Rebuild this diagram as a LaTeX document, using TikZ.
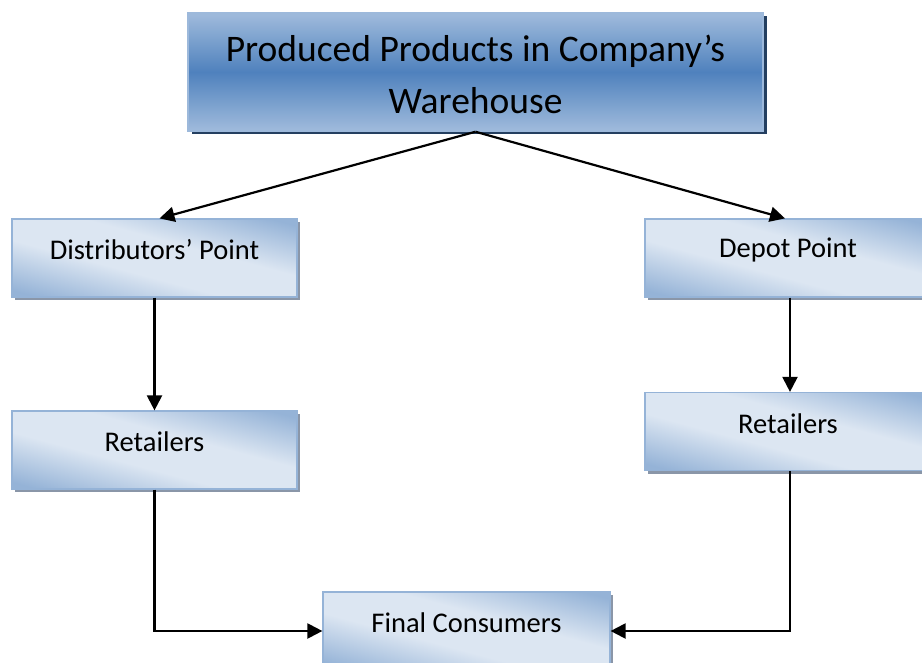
\documentclass[tikz,border=0pt]{standalone}
\usepackage{fontspec}
\setmainfont{Carlito}
\usetikzlibrary{arrows.meta,shadows}
\definecolor{boxedge}{HTML}{95B3D7}
\definecolor{boxlight}{HTML}{DCE6F2}
\definecolor{boxdark}{HTML}{95B3D7}
\definecolor{headmid}{HTML}{4F81BD}
\definecolor{headedge}{HTML}{9DB9DB}
\definecolor{headshadow}{HTML}{243F60}
\definecolor{boxshadow}{HTML}{8A96A8}
% soft diagonal panel: blue corners, wide light band across the middle
\pgfdeclareverticalshading{panel}{100bp}{%
  color(0bp)=(boxdark); color(22bp)=(boxdark);
  color(42bp)=(boxlight); color(58bp)=(boxlight);
  color(78bp)=(boxdark); color(100bp)=(boxdark)}
\pgfdeclareverticalshading{headband}{100bp}{%
  color(0bp)=(headedge); color(26bp)=(headedge);
  color(50bp)=(headmid); color(74bp)=(headedge); color(100bp)=(headedge)}
\begin{document}
\begin{tikzpicture}[x=1pt,y=-1pt,
  stagebox/.style={rectangle,draw=boxedge,line width=1.2pt,
    minimum width=285pt,minimum height=78pt,inner sep=0pt,
    shading=panel,shading angle=-15,
    general shadow={shadow xshift=3pt,shadow yshift=-3pt,fill=boxshadow}},
  headbox/.style={rectangle,draw=headedge,line width=1.5pt,
    minimum width=575pt,minimum height=118pt,inner sep=0pt,
    shading=headband,
    align=center,font=\fontsize{37.5}{52}\selectfont,
    general shadow={shadow xshift=3.5pt,shadow yshift=-3.5pt,fill=headshadow}},
  boxtext/.style={font=\fontsize{28.5}{32}\selectfont,yshift=8pt},
  flow/.style={line width=2.2pt,-{Triangle[length=15pt,width=15pt]}}]
\useasboundingbox (0,0) rectangle (922,663);

\node[headbox,text depth=0pt] (head) at (475.5,72) {\raisebox{-5pt}{Produced Products in Company’s}\\\raisebox{-5pt}{Warehouse}};

\node[stagebox,label={[boxtext]center:Distributors’ Point}] (dist) at (154.5,258) {};
\node[stagebox,minimum width=286pt,label={[boxtext]center:Depot Point}] (depot) at (788,258) {};
\node[stagebox,label={[boxtext]center:Retailers}] (retl) at (154.5,450) {};
\node[stagebox,minimum width=286pt,label={[boxtext]center:Retailers}] (retr) at (788,431.5) {};
\node[stagebox,minimum width=287pt,label={[boxtext]center:Final Consumers}] (final) at (466.5,631) {};

\coordinate (split) at (head.south);
\draw[flow] (split) -- ([xshift=5pt]dist.north);
\draw[flow] (split) -- ([xshift=-3pt]depot.north);
\draw[flow] (dist.south) -- (retl.north);
\draw[flow] ([xshift=2pt]depot.south) -- ([xshift=2pt]retr.north);
\draw[flow] (retl.south) |- (final.west);
\draw[flow] ([xshift=2pt]retr.south) |- (final.east);
\end{tikzpicture}
\end{document}
